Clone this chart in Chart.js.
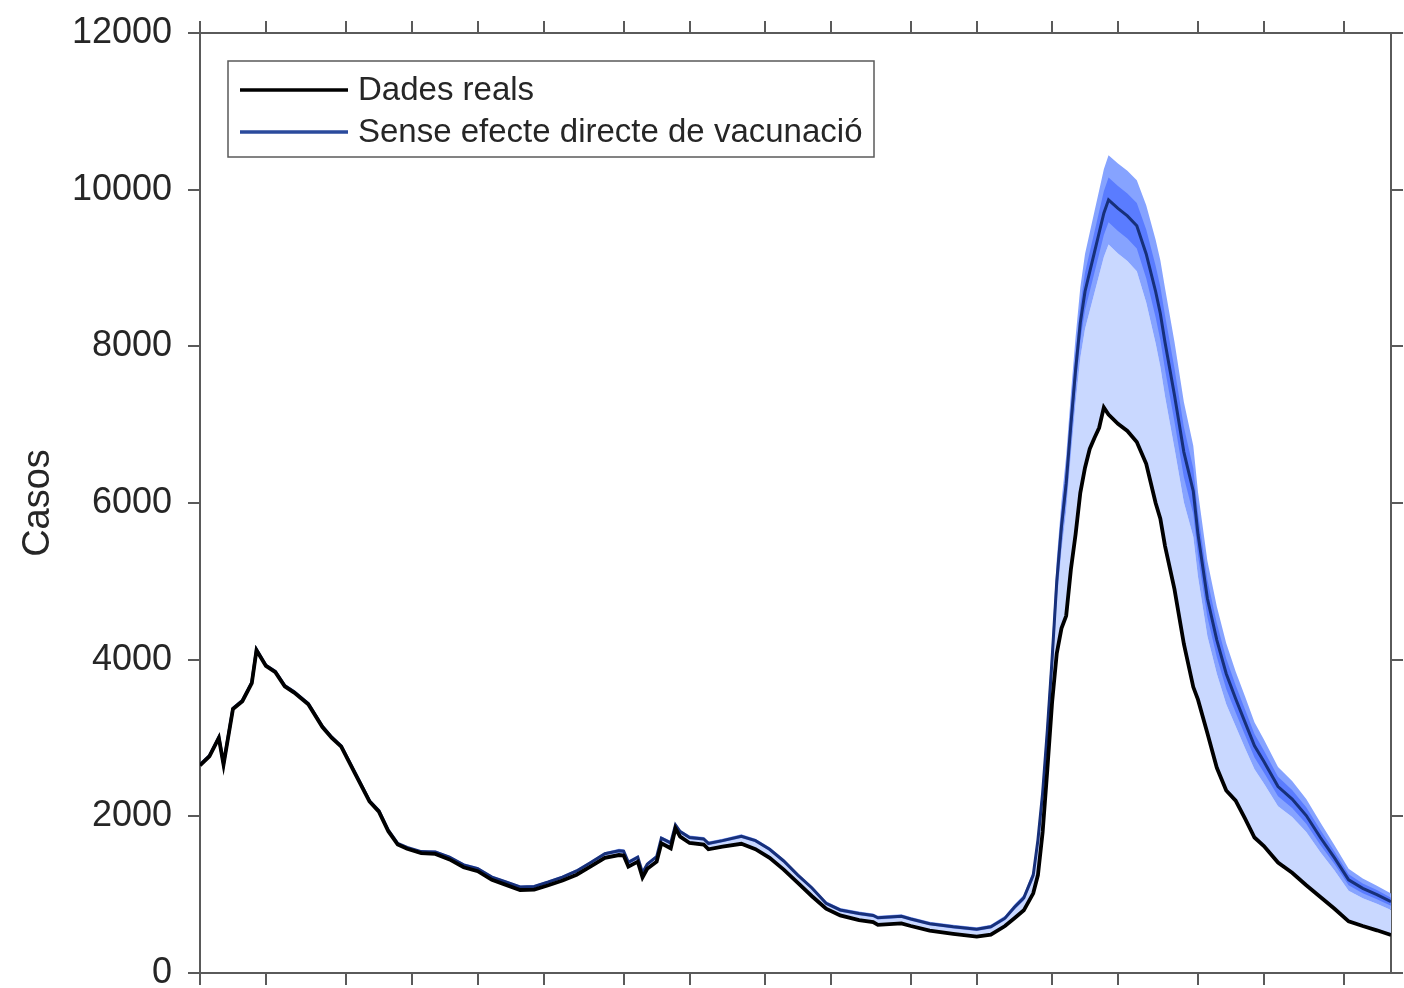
<!DOCTYPE html>
<html>
<head>
<meta charset="utf-8">
<script src="https://cdn.jsdelivr.net/npm/chart.js@4.4.1/dist/chart.umd.min.js"></script>
<style>
html,body{margin:0;padding:0;background:#ffffff;}
#wrap{width:1404px;height:988px;position:relative;}
</style>
</head>
<body>
<div id="wrap"><canvas id="c" width="1404" height="988"></canvas></div>
<script>
// ---- Data (x = day index since the first day of the series) ----
const days = [0,2,4,5,7,9,11,12,14,16,18,20,23,26,28,30,33,36,38,40,42,44,47,
  50,53,56,59,62,65,68,71,74,77,80,83,86,
  89,90,91,93,94,95,97,98,100,101,102,104,107,108,111,115,118,121,124,127,130,133,136,140,143,144,149,151,155,160,165,
  168,171,173,175,177,178,179,180,181,182,183,184,185,186,187,188,189,190,191,192,193,195,197,199,201,203,204,205,207,209,211,
  212,214,216,218,220,222,224,226,229,232,235,238,241,244,247,250,253];

const realCases = [2650,2765,3000,2660,3370,3470,3700,4120,3920,3840,3660,3580,3430,3140,3000,2890,2540,2190,2060,1810,1640,1585,1530,
  1520,1450,1350,1300,1190,1125,1060,1065,1120,1180,1255,1360,1470,
  1506,1500,1357,1421,1221,1330,1421,1656,1592,1847,1740,1660,1640,1579,1612,1650,1580,1470,1320,1150,980,820,735,675,650,615,634,600,540,500,464,
  490,600,700,800,1017,1250,1800,2600,3450,4080,4400,4560,5150,5600,6130,6450,6690,6830,6960,7220,7130,7010,6920,6780,6500,6000,5800,5450,4900,4200,3650,
  3490,3060,2620,2330,2200,1970,1730,1620,1410,1280,1120,970,820,660,600,545,485];

const medianNoVacc = [2660,2775,3010,2670,3380,3480,3710,4130,3930,3850,3670,3590,3440,3150,3010,2900,2550,2200,2072,1825,1656,1603,1550,
  1545,1478,1380,1333,1225,1162,1098,1105,1162,1225,1303,1410,1522,
  1560,1555,1412,1478,1280,1390,1484,1720,1660,1890,1805,1730,1712,1654,1690,1745,1690,1580,1430,1250,1085,890,805,760,735,705,725,690,630,590,558,
  590,700,840,960,1250,1700,2300,3100,4000,5000,5700,6250,7000,7700,8300,8700,8950,9200,9450,9700,9870,9760,9665,9540,9180,8700,8420,8050,7380,6650,6150,
  5600,4780,4250,3820,3500,3200,2900,2700,2380,2220,2010,1730,1470,1190,1080,1000,910];

const hi95 = [2670,2785,3020,2680,3390,3490,3720,4140,3940,3860,3680,3600,3450,3160,3020,2910,2560,2210,2082,1835,1666,1613,1560,
  1565,1498,1400,1353,1245,1182,1118,1125,1182,1245,1323,1430,1542,
  1585,1580,1437,1503,1305,1415,1509,1745,1685,1915,1830,1755,1737,1679,1715,1770,1715,1605,1455,1275,1110,915,830,785,760,730,750,715,655,615,583,
  615,730,875,1000,1310,1790,2430,3280,4230,5280,6020,6600,7390,8120,8750,9180,9450,9720,9990,10260,10440,10335,10240,10120,9800,9360,9100,8740,8060,7290,6730,
  6140,5260,4680,4210,3850,3530,3200,2980,2630,2450,2220,1920,1630,1330,1205,1115,1015];

const lo95 = [2650,2765,3000,2660,3370,3470,3700,4120,3920,3840,3660,3580,3430,3140,3000,2890,2540,2190,2062,1815,1646,1593,1540,
  1525,1458,1360,1313,1205,1142,1078,1085,1142,1205,1283,1390,1502,
  1535,1530,1387,1453,1255,1365,1459,1695,1635,1865,1780,1705,1687,1629,1665,1720,1665,1555,1405,1225,1060,865,780,735,710,680,700,665,605,565,533,
  565,670,805,920,1190,1610,2170,2920,3770,4720,5380,5900,6610,7280,7850,8220,8450,8680,8910,9140,9300,9185,9090,8960,8560,8040,7740,7360,6700,6010,5570,
  5060,4300,3820,3430,3150,2870,2600,2420,2130,1990,1800,1540,1310,1050,955,885,805];

const hi50 = [2665,2780,3015,2675,3385,3485,3715,4135,3935,3855,3675,3595,3445,3155,3015,2905,2555,2205,2077,1830,1661,1608,1555,
  1555,1488,1390,1343,1235,1172,1108,1115,1172,1235,1313,1420,1532,
  1572,1567,1424,1490,1292,1402,1496,1732,1672,1902,1817,1742,1724,1666,1702,1757,1702,1592,1442,1262,1097,902,817,772,747,717,737,702,642,602,570,
  602,715,857,980,1280,1745,2365,3190,4115,5140,5860,6425,7195,7910,8525,8940,9200,9460,9720,9980,10155,10048,9952,9830,9490,9030,8760,8395,7720,6970,6440,
  5870,5020,4465,4015,3675,3365,3050,2840,2505,2335,2115,1825,1550,1260,1142,1058,962];

const lo50 = [2655,2770,3005,2665,3375,3475,3705,4125,3925,3845,3665,3585,3435,3145,3005,2895,2545,2195,2067,1820,1651,1598,1545,
  1535,1468,1370,1323,1215,1152,1088,1095,1152,1215,1293,1400,1512,
  1548,1543,1400,1466,1268,1378,1472,1708,1648,1878,1793,1718,1700,1642,1678,1733,1678,1568,1418,1238,1073,878,793,748,723,693,713,678,618,578,546,
  578,685,823,940,1220,1655,2235,3010,3885,4860,5540,6075,6805,7490,8075,8460,8700,8940,9180,9420,9585,9472,9378,9250,8870,8370,8080,7705,7040,6330,5860,
  5330,4540,4035,3625,3325,3035,2750,2560,2255,2105,1905,1635,1390,1120,1018,942,858];

const xTickDays = [0,14,31,45,59,73,90,104,120,134,151,165,181,195,212,226,243];
const xMax = 253;
const yTicks = [0,2000,4000,6000,8000,10000,12000];
const legendLabels = ['Dades reals', 'Sense efecte directe de vacunació'];
const yTitle = 'Casos';

// ---- Styling ----
const FONT = "'Liberation Sans', Arial, Helvetica, sans-serif";
const AXIS = '#5a5a5a';
const TXT = '#262626';
const BLACK = '#000000';
const NAVY = '#17307a';
const LIGHT = '#c9d8ff';
const OUTER = '#86a3ff';
const INNER = '#5a7cff';

const pts = arr => days.map((d, i) => ({x: d, y: arr[i]}));

const boxLegend = {
  id: 'boxLegend',
  afterDraw(chart) {
    const ctx = chart.ctx, ca = chart.chartArea;
    const x0 = ca.left + 28, y0 = ca.top + 28, w = 646, h = 96;
    ctx.save();
    ctx.fillStyle = '#ffffff';
    ctx.fillRect(x0, y0, w, h);
    ctx.strokeStyle = AXIS; ctx.lineWidth = 1.5;
    ctx.strokeRect(x0, y0, w, h);
    const rows = [{c: BLACK, y: y0 + 29}, {c: '#2a4a9c', y: y0 + 71}];
    rows.forEach((r, i) => {
      ctx.strokeStyle = r.c; ctx.lineWidth = 3.5;
      ctx.beginPath(); ctx.moveTo(x0 + 12, r.y); ctx.lineTo(x0 + 120, r.y); ctx.stroke();
      ctx.fillStyle = TXT; ctx.font = '33px ' + FONT; ctx.textBaseline = 'middle';
      ctx.fillText(legendLabels[i], x0 + 130, r.y + 1);
    });
    ctx.restore();
  }
};

const edgeGrid = {drawOnChartArea: false, drawTicks: true, tickLength: 12, color: AXIS, lineWidth: 2};
const edgeBorder = {display: true, color: AXIS, width: 2};
const noPad = s => { s.paddingTop = 0; s.paddingBottom = 0; s.paddingLeft = 0; s.paddingRight = 0; };

new Chart(document.getElementById('c'), {
  type: 'line',
  data: {
    datasets: [
      {label: legendLabels[0], data: pts(realCases), borderColor: BLACK, borderWidth: 3.8, pointRadius: 0, fill: false, order: 0},
      {label: legendLabels[1], data: pts(medianNoVacc), borderColor: NAVY, borderWidth: 3, pointRadius: 0, fill: false, order: 1},
      {label: 'lo95', data: pts(lo95), borderWidth: 0, borderColor: 'rgba(0,0,0,0)', pointRadius: 0, backgroundColor: LIGHT, fill: {target: 0}, order: 4},
      {label: 'hi95', data: pts(hi95), borderWidth: 0, borderColor: 'rgba(0,0,0,0)', pointRadius: 0, backgroundColor: OUTER, fill: {target: 2}, order: 3},
      {label: 'hi50', data: pts(hi50), borderWidth: 0, borderColor: 'rgba(0,0,0,0)', pointRadius: 0, backgroundColor: INNER, fill: {target: 5}, order: 2},
      {label: 'lo50', data: pts(lo50), borderWidth: 0, borderColor: 'rgba(0,0,0,0)', pointRadius: 0, fill: false, order: 2}
    ]
  },
  options: {
    responsive: false,
    devicePixelRatio: 1,
    animation: false,
    layout: {padding: 0},
    elements: {line: {tension: 0}},
    plugins: {legend: {display: false}, tooltip: {enabled: false}},
    scales: {
      x: {
        type: 'linear', position: 'bottom', min: 0, max: xMax,
        afterBuildTicks: s => { s.ticks = xTickDays.map(v => ({value: v})); },
        ticks: {display: false},
        grid: edgeGrid, border: edgeBorder,
        afterFit: s => { s.height = 15; noPad(s); }
      },
      x2: {
        type: 'linear', position: 'top', min: 0, max: xMax,
        afterBuildTicks: s => { s.ticks = xTickDays.map(v => ({value: v})); },
        ticks: {display: false},
        grid: edgeGrid, border: edgeBorder,
        afterFit: s => { s.height = 33; noPad(s); }
      },
      y: {
        type: 'linear', position: 'left', min: 0, max: 12000,
        afterBuildTicks: s => { s.ticks = yTicks.map(v => ({value: v})); },
        ticks: {font: {family: FONT, size: 36}, color: TXT, padding: 16, autoSkip: false,
                callback: v => String(v)},
        grid: edgeGrid, border: edgeBorder,
        title: {display: true, text: yTitle, font: {family: FONT, size: 38}, color: TXT, padding: {top: 16, bottom: 0}},
        afterFit: s => { s.width = 200; noPad(s); }
      },
      y2: {
        type: 'linear', position: 'right', min: 0, max: 12000,
        afterBuildTicks: s => { s.ticks = yTicks.map(v => ({value: v})); },
        ticks: {display: false},
        grid: edgeGrid, border: edgeBorder,
        afterFit: s => { s.width = 13; noPad(s); }
      }
    }
  },
  plugins: [boxLegend]
});
</script>
</body>
</html>
